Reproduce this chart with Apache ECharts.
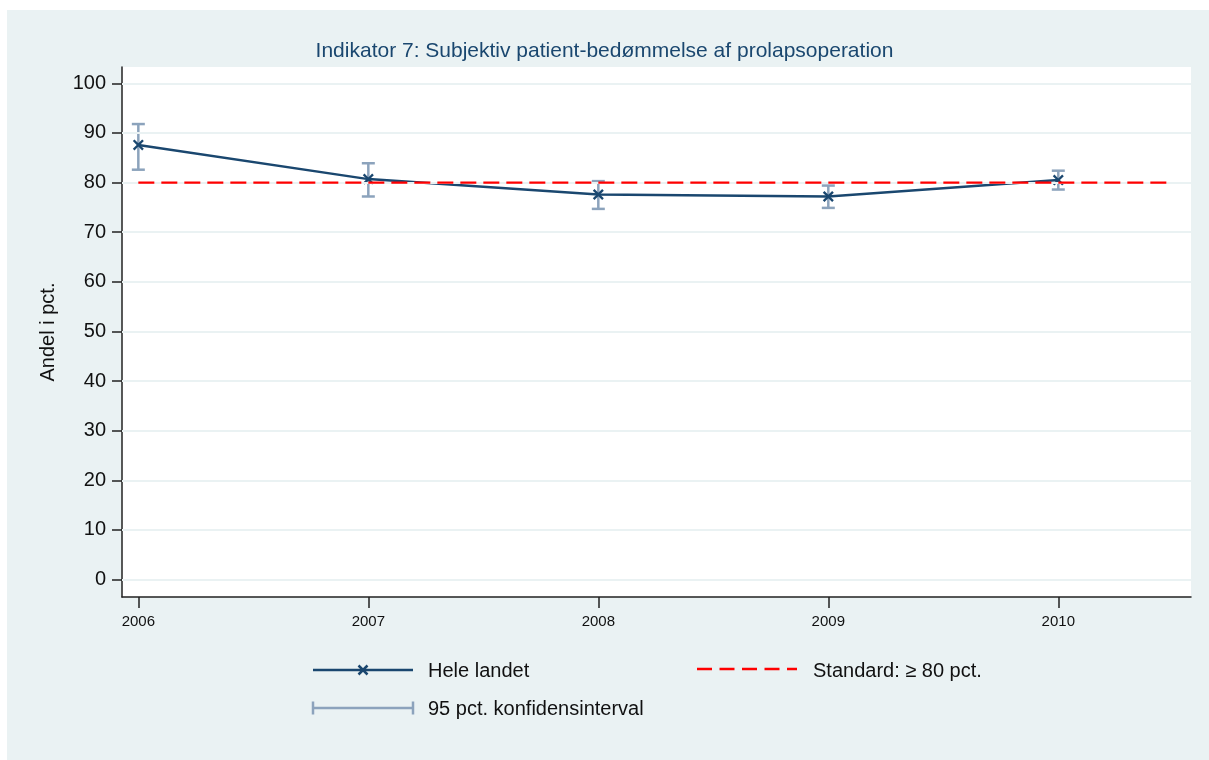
<!DOCTYPE html>
<html>
<head>
<meta charset="utf-8">
<script src="https://cdn.jsdelivr.net/npm/echarts@6/dist/echarts.min.js"></script>
<style>
  html, body { margin: 0; padding: 0; background: #ffffff; }
  #chart { width: 1209px; height: 760px; }
</style>
</head>
<body>
<div id="chart"></div>
<script>
// ---- Data ----
const years = [2006, 2007, 2008, 2009, 2010];
const andel = [87.6, 80.7, 77.6, 77.2, 80.5];
const ciLower = [82.6, 77.2, 74.7, 74.9, 78.6];
const ciUpper = [91.8, 83.9, 80.3, 79.4, 82.4];
const standardValue = 80;
const standardRange = [2006, 2010.5];
const yTicks = [0, 10, 20, 30, 40, 50, 60, 70, 80, 90, 100];
const xTicks = [2006, 2007, 2008, 2009, 2010];
const titleText = 'Indikator 7: Subjektiv patient-bedømmelse af prolapsoperation';
const yAxisName = 'Andel i pct.';
const legendLabels = ['Hele landet', 'Standard: \u2265 80 pct.', '95 pct. konfidensinterval'];

// ---- Styles ----
const navy = '#1a476f';
const ciColor = '#8ca3bc';
const red = '#ff0000';
const panel = '#eaf2f3';
const font = '"Liberation Sans", Arial, sans-serif';

const chart = echarts.init(document.getElementById('chart'), null, { renderer: 'canvas' });

const lineData = years.map((y, i) => [y, andel[i]]);
const ciData = years.map((y, i) => [y, ciLower[i], ciUpper[i]]);
const stdData = standardRange.map(x => [x, standardValue]);

const xSym = 'path://M1.5,0 L5,3.5 L8.5,0 L10,1.5 L6.5,5 L10,8.5 L8.5,10 L5,6.5 L1.5,10 L0,8.5 L3.5,5 L0,1.5 Z';

const option = {
  backgroundColor: panel,
  animation: false,
  textStyle: { fontFamily: font },
  title: {
    text: titleText,
    left: 'center',
    top: 36,
    textStyle: { color: navy, fontSize: 21, fontWeight: 'normal', fontFamily: font }
  },
  grid: {
    left: 122, right: 18, top: 67, bottom: 163,
    show: true, backgroundColor: '#ffffff', borderWidth: 0
  },
  xAxis: {
    type: 'value',
    min: 2005.929,
    max: 2010.577,
    splitLine: { show: false },
    axisLine: { show: true, onZero: false, lineStyle: { color: '#222', width: 1.5 } },
    axisTick: { show: true, customValues: xTicks, length: 11, lineStyle: { color: '#222', width: 1.5 } },
    axisLabel: { customValues: xTicks, fontSize: 15, color: '#111', margin: 17, fontFamily: font,
      formatter: v => String(Math.round(v)) }
  },
  yAxis: {
    type: 'value',
    min: -3.53,
    max: 103.3,
    name: yAxisName,
    nameLocation: 'middle',
    nameRotate: 90,
    nameGap: 64,
    nameTextStyle: { fontSize: 20, color: '#111', fontFamily: font },
    splitLine: { show: false },
    axisLine: { show: true, onZero: false, lineStyle: { color: '#222', width: 1.5 } },
    axisTick: { show: true, customValues: yTicks, length: 10, lineStyle: { color: '#222', width: 1.5 } },
    axisLabel: { customValues: yTicks, fontSize: 20, color: '#111', margin: 16, fontFamily: font }
  },
  series: [
    {
      name: 'grid',
      type: 'line',
      data: [],
      z: 1,
      silent: true,
      markLine: {
        silent: true,
        symbol: ['none', 'none'],
        label: { show: false },
        lineStyle: { color: panel, width: 2, type: 'solid' },
        data: yTicks.map(v => ({ yAxis: v }))
      }
    },
    {
      name: legendLabels[2],
      type: 'custom',
      z: 3,
      data: ciData,
      renderItem: function (params, api) {
        const x = api.value(0), lo = api.value(1), hi = api.value(2);
        const pLo = api.coord([x, lo]);
        const pHi = api.coord([x, hi]);
        const hw = 6.5;
        const st = { stroke: ciColor, lineWidth: 2.5 };
        return {
          type: 'group',
          children: [
            { type: 'line', shape: { x1: pLo[0], y1: pLo[1], x2: pHi[0], y2: pHi[1] }, style: st },
            { type: 'line', shape: { x1: pLo[0] - hw, y1: pLo[1], x2: pLo[0] + hw, y2: pLo[1] }, style: st },
            { type: 'line', shape: { x1: pHi[0] - hw, y1: pHi[1], x2: pHi[0] + hw, y2: pHi[1] }, style: st }
          ]
        };
      }
    },
    {
      name: legendLabels[0],
      type: 'line',
      z: 4,
      data: lineData,
      symbol: xSym,
      symbolSize: 11,
      itemStyle: { color: navy },
      lineStyle: { color: navy, width: 2.5 }
    },
    {
      name: legendLabels[1],
      type: 'line',
      z: 5,
      data: stdData,
      symbol: 'none',
      lineStyle: { color: red, width: 2.4, type: [16, 7] }
    }
  ],
  graphic: [
    { type: 'rect', shape: { x: 0, y: 0, width: 1209, height: 10 }, style: { fill: '#ffffff' }, silent: true },
    { type: 'rect', shape: { x: 0, y: 0, width: 7, height: 760 }, style: { fill: '#ffffff' }, silent: true },
    // legend row 1: Hele landet
    { type: 'line', shape: { x1: 313, y1: 670, x2: 413, y2: 670 }, style: { stroke: navy, lineWidth: 2.5 } },
    { type: 'line', shape: { x1: 358.5, y1: 665.5, x2: 367.5, y2: 674.5 }, style: { stroke: navy, lineWidth: 2.5 } },
    { type: 'line', shape: { x1: 358.5, y1: 674.5, x2: 367.5, y2: 665.5 }, style: { stroke: navy, lineWidth: 2.5 } },
    { type: 'text', x: 428, y: 671, style: { text: legendLabels[0], fontSize: 20, fill: '#111', font: '20px ' + font, verticalAlign: 'middle' } },
    // legend row 1: Standard
    { type: 'line', shape: { x1: 697, y1: 669, x2: 797, y2: 669 }, style: { stroke: red, lineWidth: 2.4, lineDash: [15, 7.5] } },
    { type: 'text', x: 813, y: 671, style: { text: legendLabels[1], fontSize: 20, fill: '#111', font: '20px ' + font, verticalAlign: 'middle' } },
    // legend row 2: CI
    { type: 'line', shape: { x1: 313, y1: 708, x2: 413, y2: 708 }, style: { stroke: ciColor, lineWidth: 2.5 } },
    { type: 'line', shape: { x1: 313, y1: 701.5, x2: 313, y2: 714.5 }, style: { stroke: ciColor, lineWidth: 2.5 } },
    { type: 'line', shape: { x1: 413, y1: 701.5, x2: 413, y2: 714.5 }, style: { stroke: ciColor, lineWidth: 2.5 } },
    { type: 'text', x: 428, y: 709, style: { text: legendLabels[2], fontSize: 20, fill: '#111', font: '20px ' + font, verticalAlign: 'middle' } }
  ]
};

chart.setOption(option);
</script>
</body>
</html>
